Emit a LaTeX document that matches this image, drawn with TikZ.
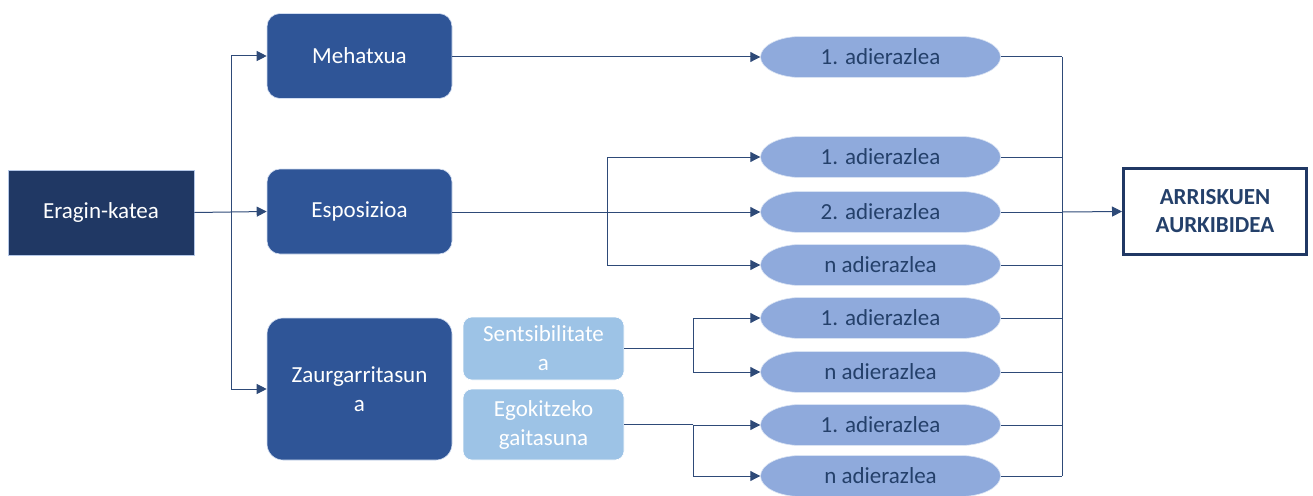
\documentclass[tikz,border=0pt]{standalone}
\usepackage{fontspec}
\setmainfont{Carlito}
\usetikzlibrary{arrows.meta,shapes.misc}
\definecolor{darknavy}{HTML}{203864}
\definecolor{midblue}{HTML}{2F5597}
\definecolor{lightblue}{HTML}{9DC3E6}
\definecolor{pillblue}{HTML}{8FAADC}
\definecolor{pilltext}{HTML}{24406A}
\definecolor{linecol}{HTML}{2E4A78}
\definecolor{edgecol}{HTML}{B4C7E7}
\begin{document}
\begin{tikzpicture}[x=1pt,y=-1pt,
  txt/.style={font=\fontsize{23}{29}\selectfont, align=center, inner sep=0pt},
  darkbox/.style={txt, rectangle, fill=darknavy, draw=edgecol, line width=0.8pt, text=white, minimum width=186pt, minimum height=85pt},
  midbox/.style={txt, rectangle, rounded corners=13pt, fill=midblue, draw=edgecol!60, line width=0.6pt, text=white, minimum width=185pt, minimum height=85pt},
  lightbox/.style={txt, rectangle, rounded corners=9pt, fill=lightblue, draw=white, line width=0.6pt, text=white, minimum width=161pt},
  pill/.style={txt, rectangle, text=pilltext, minimum width=240pt, minimum height=42pt,
    path picture={
      \fill[pillblue, draw=edgecol!50, line width=0.6pt]
        ([xshift=40pt,yshift=-0.5pt]path picture bounding box.north west)
        -- ([xshift=-40pt,yshift=-0.5pt]path picture bounding box.north east)
        arc[start angle=90, end angle=-90, x radius=40pt, y radius=20.5pt]
        -- ([xshift=40pt,yshift=0.5pt]path picture bounding box.south west)
        arc[start angle=270, end angle=90, x radius=40pt, y radius=20.5pt]
        -- cycle;
    }},
  resultbox/.style={txt, rectangle, fill=white, draw=darknavy, line width=3pt, text=pilltext, font=\fontsize{23}{28}\selectfont\bfseries, minimum width=183pt, minimum height=86pt},
  conn/.style={draw=linecol, line width=1pt},
  arr/.style={conn, -{Triangle[length=10pt,width=10pt]}}
]
\useasboundingbox (0,0) rectangle (1313,495);

\node[darkbox] (er) at (101,212.5) {Eragin-katea};
\node[midbox] (me) at (359.5,56) {Mehatxua};
\node[midbox] (es) at (359.5,211.5) {Esposizioa};
\node[midbox, minimum height=142pt, rounded corners=16pt] (za) at (359.5,389) {Zaurgarritasun\\a};
\node[lightbox, minimum height=63pt] (se) at (543.5,348.5) {Sentsibilitate\\a};
\node[lightbox, minimum height=71pt] (eg) at (543.5,424.5) {Egokitzeko\\gaitasuna};

\node[pill] (p1) at (880.5,57) {1. adierazlea};
\node[pill] (p2) at (880.5,157) {1. adierazlea};
\node[pill] (p3) at (880.5,212) {2. adierazlea};
\node[pill] (p4) at (880.5,265) {n adierazlea};
\node[pill] (p5) at (880.5,318) {1. adierazlea};
\node[pill] (p6) at (880.5,372) {n adierazlea};
\node[pill] (p7) at (880.5,425) {1. adierazlea};
\node[pill] (p8) at (880.5,476) {n adierazlea};

\node[resultbox] (ar) at (1215,211.5) {ARRISKUEN\\AURKIBIDEA};

% left fan-out
\coordinate (b1) at (231,212);
\draw[arr] (er.east) -- (es.west);
\draw[arr] (b1) |- (me.west);
\draw[arr] (b1) |- (za.west);

% Mehatxua
\draw[arr] (me.east |- p1.west) -- (p1.west);

% Esposizioa
\coordinate (b2) at (607,212);
\draw[arr] (es.east |- p3.west) -- (p3.west);
\draw[arr] (b2) |- (p2.west);
\draw[arr] (b2) |- (p4.west);

% Sentsibilitatea
\coordinate (b3) at (693,348.5);
\draw[conn] (se.east) -- (b3);
\draw[arr] (b3) |- (p5.west);
\draw[arr] (b3) |- (p6.west);

% Egokitzeko
\coordinate (b4) at (693,424.5);
\draw[conn] (eg.east) -- (b4);
\draw[arr] (b4) |- (p7.west);
\draw[arr] (b4) |- (p8.west);

% right collector
\coordinate (rtop) at (1062,57);
\coordinate (rbot) at (1062,476);
\coordinate (rmid) at (1062,212);
\foreach \p in {p1,p2,p3,p4,p5,p6,p7,p8}{
  \draw[conn] (\p.east) -- (\p.east -| rtop);
}
\draw[conn] (rtop) -- (rbot);
\draw[arr] (rmid) -- (ar.west);
\end{tikzpicture}
\end{document}
